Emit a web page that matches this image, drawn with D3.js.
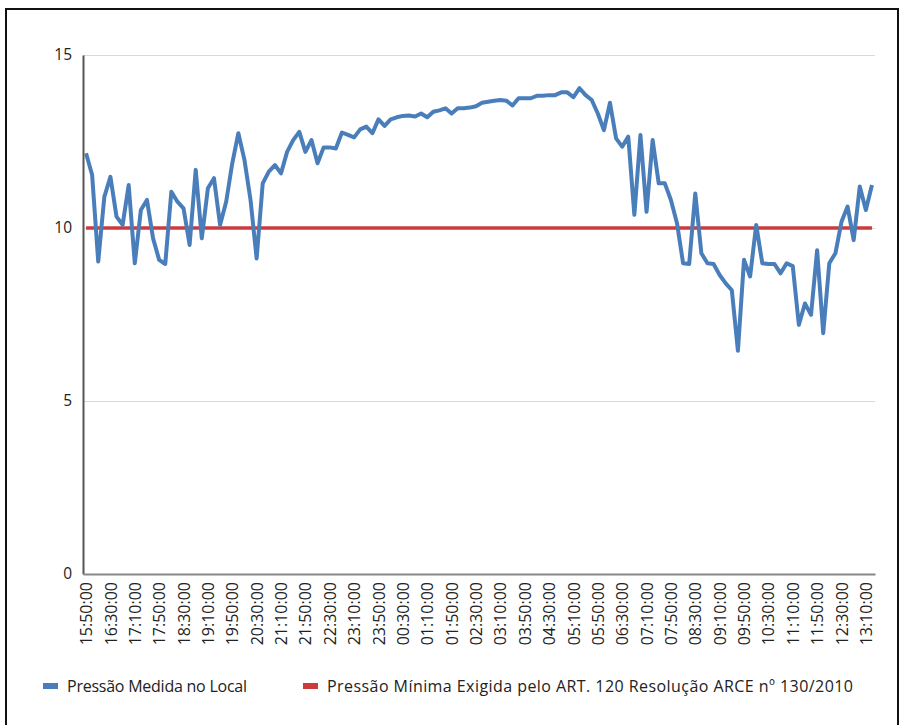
<!DOCTYPE html>
<html>
<head>
<meta charset="utf-8">
<script src="https://cdn.jsdelivr.net/npm/d3@7"></script>
<style>
body{margin:0;background:#fff;}
text{font-family:"Open Sans",sans-serif;}
</style>
</head>
<body>
<div class="chart"></div>
<script>
// leituras a cada 10 minutos, de 15:50:00 ate 13:20:00 do dia seguinte
const inicio = "15:50:00";
const passoMin = 10;

const pressaoMedida = [
  12.16, 11.53, 9.03, 10.9, 11.48, 10.33, 10.09, 11.24, 8.98, 10.52,
  10.81, 9.7, 9.08, 8.96, 11.05, 10.76, 10.57, 9.51, 11.68, 9.7,
  11.15, 11.44, 10.09, 10.76, 11.87, 12.74, 11.97, 10.81, 9.12, 11.29,
  11.63, 11.82, 11.58, 12.2, 12.54, 12.78, 12.2, 12.54, 11.87, 12.33,
  12.33, 12.3, 12.76, 12.69, 12.62, 12.85, 12.93, 12.74, 13.14, 12.95,
  13.14, 13.2, 13.24, 13.25, 13.22, 13.31, 13.2, 13.36, 13.4, 13.46,
  13.31, 13.46, 13.46, 13.48, 13.52, 13.62, 13.65, 13.68, 13.7, 13.68,
  13.54, 13.75, 13.75, 13.75, 13.82, 13.82, 13.84, 13.84, 13.92, 13.92,
  13.78, 14.04, 13.84, 13.7, 13.31, 12.83, 13.62, 12.59, 12.35, 12.64,
  10.38, 12.69, 10.47, 12.54, 11.29, 11.29, 10.81, 10.14, 8.98, 8.96,
  11.0, 9.27, 8.98, 8.96, 8.64, 8.4, 8.2, 6.45, 9.08, 8.6,
  10.09, 8.98, 8.96, 8.96, 8.69, 8.98, 8.9, 7.2, 7.82, 7.49,
  9.36, 6.96, 8.98, 9.27, 10.18, 10.62, 9.65, 11.2, 10.52, 11.24
];

const pressaoMinima = 10;

const yTicks = [0, 5, 10, 15];

const rotulosX = [
  "15:50:00","16:30:00","17:10:00","17:50:00","18:30:00","19:10:00","19:50:00",
  "20:30:00","21:10:00","21:50:00","22:30:00","23:10:00","23:50:00","00:30:00",
  "01:10:00","01:50:00","02:30:00","03:10:00","03:50:00","04:30:00","05:10:00",
  "05:50:00","06:30:00","07:10:00","07:50:00","08:30:00","09:10:00","09:50:00",
  "10:30:00","11:10:00","11:50:00","12:30:00","13:10:00"
];

const legendaNomes = ["Pressão Medida no Local",
                      "Pressão Mínima Exigida pelo ART. 120 Resolução ARCE nº 130/2010"];
const legendaCores = ["#4a7ebb", "#cc3b3b"];

var parse = d3.timeParse("%H:%M:%S"),
    fmt = d3.timeFormat("%H:%M:%S");

var horas = pressaoMedida.map(function(d, i){
  return fmt(d3.timeMinute.offset(parse(inicio), i * passoMin));
});

var svg = d3.select("div.chart")
            .append("svg")
            .attr("width", 901)
            .attr("height", 725);

// moldura
svg.append("rect")
   .attr("x", 6).attr("y", 9)
   .attr("width", 892).attr("height", 740)
   .attr("fill", "none")
   .attr("stroke", "#111")
   .attr("stroke-width", 2);

var mLeft = 83, mRight = 875, mTop = 55, mBottom = 574;

var x = d3.scalePoint()
          .domain(horas)
          .range([mLeft, mRight])
          .padding(0.5);

var y = d3.scaleLinear()
          .domain([0, 15])
          .range([mBottom, mTop]);

//grid
svg.append("g")
   .attr("transform", "translate(" + mLeft + ",0)")
   .call(d3.axisLeft(y).tickValues(yTicks.filter(d => d > 0)).tickSize(-(mRight - mLeft)).tickFormat(""))
   .call(g => g.select(".domain").remove())
   .selectAll("line")
   .attr("stroke", "#d9d9d9")
   .attr("stroke-width", 1);

//y axis
var yAxis = svg.append("g")
   .attr("transform", "translate(" + mLeft + ",0)")
   .call(d3.axisLeft(y).tickValues(yTicks).tickSize(0).tickPadding(11));
yAxis.select(".domain").attr("stroke", "#555").attr("stroke-width", 2);
yAxis.selectAll("text").attr("font-size", 15.5).attr("fill", "#222");

//x axis
var xAxis = svg.append("g")
   .attr("transform", "translate(0," + mBottom + ")")
   .call(d3.axisBottom(x).tickValues(rotulosX).tickSize(0));
xAxis.select(".domain").attr("stroke", "#888").attr("stroke-width", 2);
xAxis.selectAll("text")
     .attr("transform", "rotate(-90)")
     .attr("x", -8)
     .attr("y", 0)
     .attr("dy", "0.35em")
     .attr("text-anchor", "end")
     .attr("font-size", 16)
     .attr("fill", "#222");

//linha minima
svg.append("line")
   .attr("x1", x(horas[0]))
   .attr("x2", x(horas[horas.length - 1]))
   .attr("y1", y(pressaoMinima))
   .attr("y2", y(pressaoMinima))
   .attr("stroke", legendaCores[1])
   .attr("stroke-width", 3.5);

//linha medida
var line = d3.line()
   .x((d, i) => x(horas[i]))
   .y(d => y(d));

svg.append("path")
   .datum(pressaoMedida)
   .attr("d", line)
   .attr("fill", "none")
   .attr("stroke", legendaCores[0])
   .attr("stroke-width", 4)
   .attr("stroke-linejoin", "round");

//legenda
var legX = [43, 303];
var legW = [180, 526];
var leg = svg.selectAll(".leg")
   .data(legendaNomes)
   .enter()
   .append("g")
   .attr("class", "leg")
   .attr("transform", (d, i) => "translate(" + legX[i] + ",686)");

leg.append("rect")
   .attr("x", 0).attr("y", -3)
   .attr("width", 15).attr("height", 6)
   .attr("fill", (d, i) => legendaCores[i]);

leg.append("text")
   .attr("x", 24)
   .attr("dy", "0.35em")
   .attr("font-size", 16)
   .attr("textLength", (d, i) => legW[i])
   .attr("lengthAdjust", "spacing")
   .attr("fill", "#222")
   .text(d => d);
</script>
</body>
</html>
